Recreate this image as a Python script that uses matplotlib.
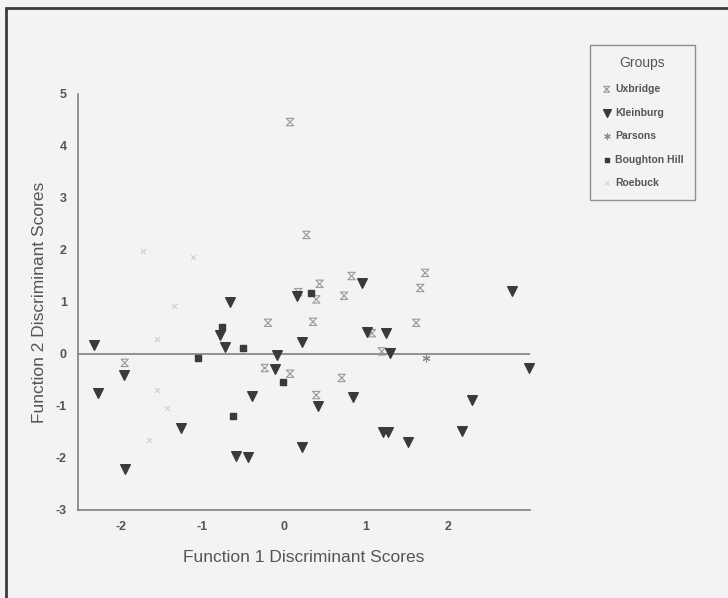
import numpy as np
import matplotlib
matplotlib.use("Agg")
import matplotlib.pyplot as plt
from matplotlib.path import Path
from matplotlib.patches import Rectangle

plt.rcParams['font.family'] = ['Liberation Sans', 'DejaVu Sans']
plt.rcParams['axes.unicode_minus'] = False

# discriminant scores (x = function 1, y = function 2)
uxbridge_x = [-1.95, -0.20, -0.24, 0.07, 0.17, 0.07, 0.27, 0.82, 1.72, 1.66,
              0.43, 0.39, 0.73, 0.35, 1.07, 1.61, 1.19, 0.70, 0.39]
uxbridge_y = [-0.17, 0.60, -0.27, -0.38, 1.19, 4.46, 2.29, 1.50, 1.56, 1.27,
              1.35, 1.05, 1.12, 0.62, 0.40, 0.60, 0.05, -0.46, -0.79]

kleinburg_x = [-2.32, -2.27, -1.96, -1.94, -0.66, -0.78, -0.72, -0.09, -0.11, -0.39,
               -1.26, -0.59, -0.44, 0.21, 0.15, 0.21, 0.95, 2.78, 1.01, 1.24,
               1.29, 2.99, 0.41, 0.84, 2.29, 1.21, 1.27, 1.51, 2.17]
kleinburg_y = [0.17, -0.75, -0.40, -2.21, 1.00, 0.37, 0.13, -0.02, -0.29, -0.81,
               -1.42, -1.96, -1.98, -1.79, 1.12, 0.23, 1.37, 1.21, 0.42, 0.41,
               0.02, -0.27, -1.00, -0.82, -0.88, -1.50, -1.50, -1.69, -1.48]

parsons_x = [1.73]
parsons_y = [-0.08]

boughton_x = [-1.06, -0.76, -0.50, -0.02, -0.63, 0.33]
boughton_y = [-0.08, 0.52, 0.12, -0.54, -1.19, 1.17]

roebuck_x = [-1.73, -1.11, -1.35, -1.56, -1.56, -1.43, -1.65]
roebuck_y = [1.98, 1.87, 0.92, 0.29, -0.69, -1.04, -1.65]

x_ticks = [-2, -1, 0, 1, 2]
y_ticks = [-3, -2, -1, 0, 1, 2, 3, 4, 5]

# hourglass marker for Uxbridge
hourglass = Path([(-1, 1), (1, 1), (-1, -1), (1, -1), (-1, 1)],
                 [Path.MOVETO, Path.LINETO, Path.LINETO, Path.LINETO, Path.LINETO])

bg = '#f3f3f3'
txt = '#555555'
axc = '#808080'

fig = plt.figure(figsize=(7.28, 5.98), dpi=100, facecolor=bg)
ax = fig.add_axes([78 / 728, 1 - 510 / 598, (530 - 78) / 728, (510 - 94) / 598])
ax.set_facecolor(bg)

ax.axhline(0, color=axc, lw=1.2, zorder=1)

ax.scatter(uxbridge_x, uxbridge_y, marker=hourglass, s=28, facecolors='none',
           edgecolors='#9a9a9a', linewidths=0.8, label='Uxbridge', zorder=3, clip_on=False)
ax.scatter(kleinburg_x, kleinburg_y, marker='v', s=48, color='#3a3a3a',
           label='Kleinburg', zorder=3, clip_on=False)
ax.scatter(parsons_x, parsons_y, marker=(6, 2, 0), s=26, color='#8a8a8a',
           linewidths=0.8, label='Parsons', zorder=3, clip_on=False)
ax.scatter(boughton_x, boughton_y, marker='s', s=20, color='#3a3a3a',
           label='Boughton Hill', zorder=3, clip_on=False)
ax.scatter(roebuck_x, roebuck_y, marker='x', s=12, color='#cacaca',
           linewidths=0.7, label='Roebuck', zorder=3, clip_on=False)

ax.set_xlim(-2.52, 3.0)
ax.set_ylim(-3, 5)
ax.set_xticks(x_ticks)
ax.set_yticks(y_ticks)
ax.tick_params(length=0, colors=txt, labelsize=9, pad=8)
for lab in ax.get_xticklabels() + ax.get_yticklabels():
    lab.set_fontweight('bold')

for s in ['top', 'right']:
    ax.spines[s].set_visible(False)
for s in ['left', 'bottom']:
    ax.spines[s].set_color(axc)
    ax.spines[s].set_linewidth(1.2)

ax.set_xlabel('Function 1 Discriminant Scores', fontsize=12.5, color=txt, labelpad=12)
ax.set_ylabel('Function 2 Discriminant Scores', fontsize=12.5, color=txt, labelpad=6)

leg = fig.legend(loc='upper left', bbox_to_anchor=(590 / 728, 1 - 45 / 598),
                 title='Groups', fontsize=7.5, title_fontsize=10,
                 frameon=True, fancybox=False, edgecolor='#777777',
                 facecolor=bg, handletextpad=0.3, handlelength=1.0,
                 labelspacing=1.3, borderpad=1.1, borderaxespad=0,
                 markerscale=0.8)
leg.get_title().set_color(txt)
for t in leg.get_texts():
    t.set_color(txt)
    t.set_fontweight('bold')

# scanned page border
fig.patches.append(Rectangle((6 / 728, -0.02), 1.1, 1 - 8 / 598 + 0.02,
                             transform=fig.transFigure, fill=False,
                             edgecolor='#3a3a3a', lw=2.0))

fig.savefig('out.png', dpi=100, facecolor=bg)
